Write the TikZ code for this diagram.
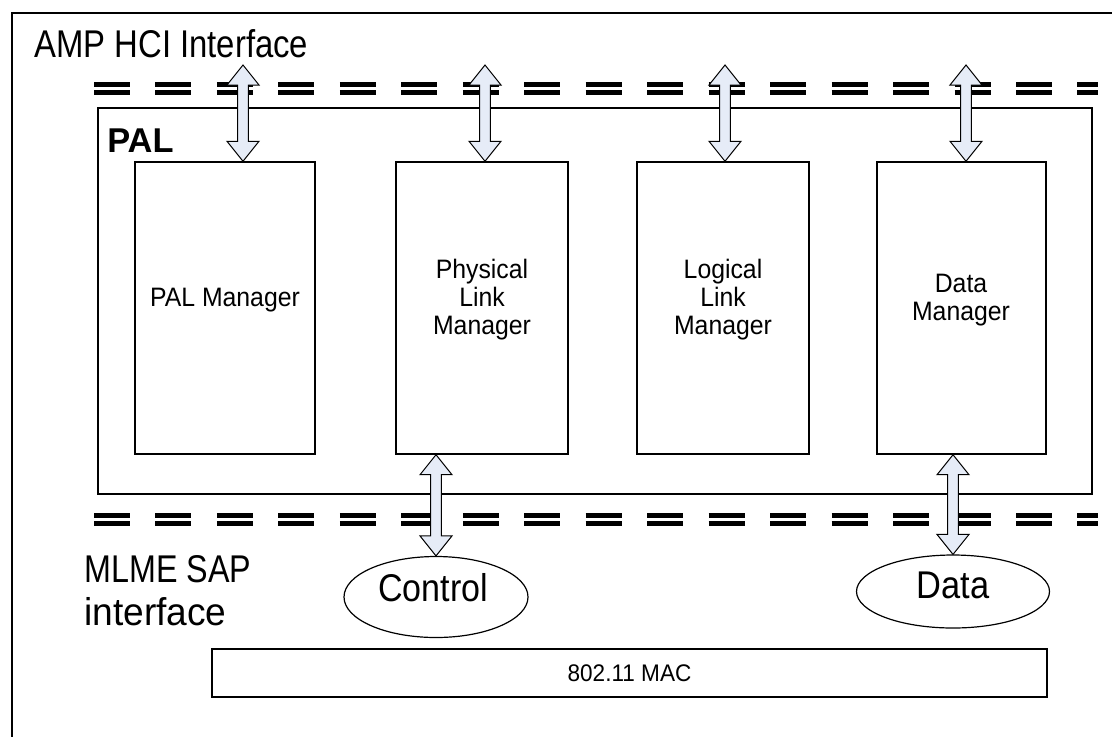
\documentclass[tikz,border=0pt]{standalone}
\usepackage{fontspec}
\usepackage{graphicx}
\setmainfont{Liberation Sans}
\usetikzlibrary{calc,fit,shapes.geometric}
\definecolor{arrowfill}{HTML}{E6ECF7}
\tikzset{
  box/.style={draw=black, line width=1.1pt, inner sep=0pt},
  boxtext/.style={align=center, inner sep=0pt, font=\fontsize{20}{21}\selectfont},
  ifline/.style={line width=3.9pt, dash pattern=on 27pt off 19.1pt},
  bigtext/.style={inner sep=0pt, font=\fontsize{29}{30}\selectfont},
  oval/.style={ellipse, draw=black, line width=0.9pt, inner sep=0pt},
  dblarrow/.style={fill=arrowfill, draw=black, line width=0.75pt, line join=miter},
}
\newcommand\sx[2]{\scalebox{#1}[1]{#2}}
\newcommand\dblarr[2]{%
  \path[dblarrow] let \p1=(#1), \p2=(#2) in
    (\x1,\y1) -- (\x1+12pt,\y1-15pt) -- (\x1+4.1pt,\y1-15pt) -- (\x1+4.1pt,\y2+15pt)
    -- (\x1+12pt,\y2+15pt) -- (\x1,\y2) -- (\x1-12pt,\y2+15pt) -- (\x1-4.1pt,\y2+15pt)
    -- (\x1-4.1pt,\y1-15pt) -- (\x1-12pt,\y1-15pt) -- cycle;}
\begin{document}
\begin{tikzpicture}[x=0.75pt, y=-0.75pt]
\useasboundingbox (0,0) rectangle (1112,736);
\clip (0,0) rectangle (1112,736);
% outer frame (extends past the picture)
\draw[line width=1.5pt] (12,13) rectangle (1140,760);
% interface lines
\coordinate (hA1) at (94,84.5);  \coordinate (hB1) at (1098,84.5);
\coordinate (hA2) at (94,92.5);  \coordinate (hB2) at (1098,92.5);
\coordinate (mA1) at (94,515.5); \coordinate (mB1) at (1098,515.5);
\coordinate (mA2) at (94,523.5); \coordinate (mB2) at (1098,523.5);
\draw[ifline] (hA1) -- (hB1);
\draw[ifline] (hA2) -- (hB2);
\draw[ifline] (mA1) -- (mB1);
\draw[ifline] (mA2) -- (mB2);
% texts
\node[bigtext, anchor=base west] (hci) at (34,57) {\sx{0.85}{AMP HCI Interface}};
\node[bigtext, anchor=base west] (mlme1) at (84,582) {\sx{0.835}{MLME SAP}};
\node[bigtext, anchor=base west] (mlme2) at (84,625) {\sx{0.96}{interface}};
% PAL box
\node[box, fit={(98,108) (1092,494)}] (pal) {};
\node[inner sep=0pt, anchor=base west, font=\bfseries\fontsize{25.8}{30}\selectfont] (paltxt) at (107,152) {PAL};
% inner boxes
\node[box, fit={(135,162) (315,454)}] (pm) {};
\node[box, fit={(396,162) (568,454)}] (pl) {};
\node[box, fit={(637,162) (809,454)}] (ll) {};
\node[box, fit={(877,162) (1046,454)}] (dm) {};
\node[boxtext] (pmt) at (225,300) {\sx{0.93}{PAL Manager}};
\node[boxtext] (plt) at (482,300) {\sx{0.93}{Physical}\\\sx{0.93}{Link}\\\sx{0.93}{Manager}};
\node[boxtext] (llt) at (723,300) {\sx{0.93}{Logical}\\\sx{0.93}{Link}\\\sx{0.93}{Manager}};
\node[boxtext] (dmt) at (961,300) {\sx{0.93}{Data}\\\sx{0.93}{Manager}};
% ellipses
\node[oval, minimum width=138pt, minimum height=60.75pt] (ctl) at (436,597) {};
\node[bigtext, anchor=base] (ctlt) at (433,601) {\sx{0.88}{Control}};
\node[oval, minimum width=144.75pt, minimum height=54.75pt] (dat) at (953,591.5) {};
\node[bigtext, anchor=base] (datt) at (953,598) {\sx{0.89}{Data}};
% MAC box
\node[box, fit={(212,649) (1047,697)}] (mac) {};
\node[boxtext, font=\fontsize{18}{20}\selectfont] (mact) at (mac.center) {\sx{0.94}{802.11 MAC}};
% arrows
\coordinate (a1) at (243,65);
\coordinate (a2) at (485,65);
\coordinate (a3) at (725,65);
\coordinate (a4) at (966,65);
\dblarr{a1}{a1 |- pm.north}
\dblarr{a2}{a2 |- pl.north}
\dblarr{a3}{a3 |- ll.north}
\dblarr{a4}{a4 |- dm.north}
\coordinate (b1) at (436,0);
\coordinate (b2) at (953,0);
\dblarr{b1 |- pl.south}{b1 |- ctl.north}
\dblarr{b2 |- dm.south}{b2 |- dat.north}
\end{tikzpicture}
\end{document}
